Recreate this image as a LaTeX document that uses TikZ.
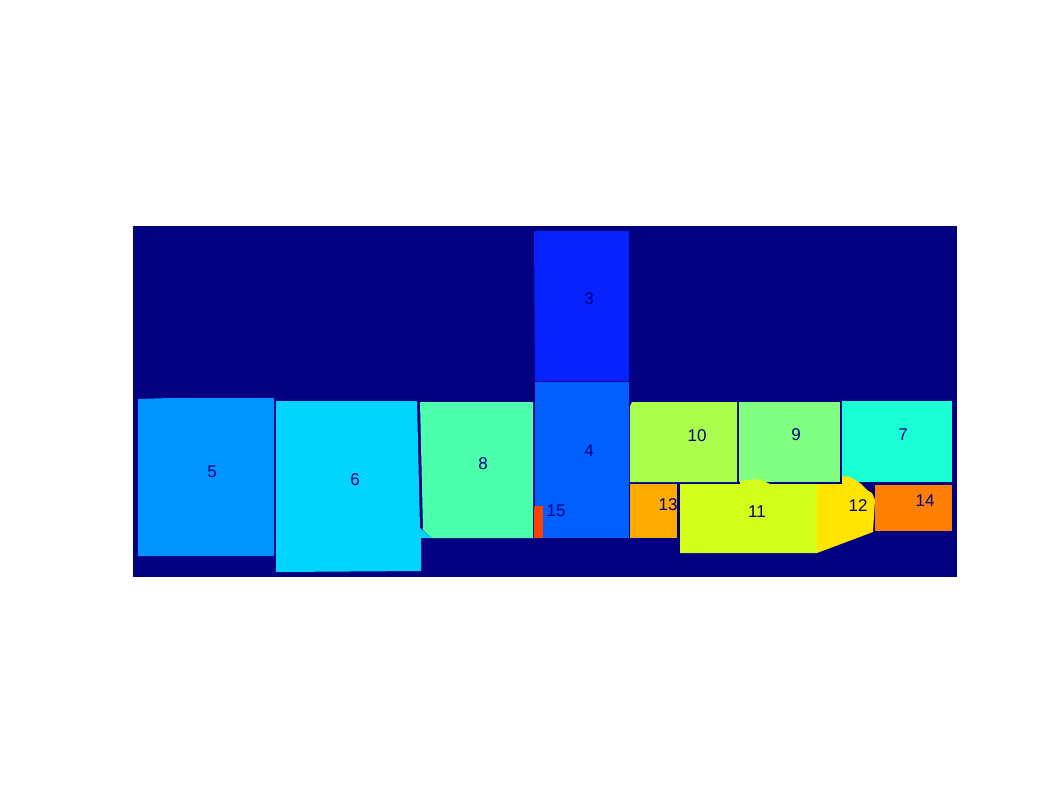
\documentclass[tikz,border=0pt]{standalone}
\usepackage{fontspec}
\setmainfont{Liberation Sans}
\begin{document}
\begin{tikzpicture}[x=1pt,y=-1pt,
  lbl/.style={text=navyc,font=\fontsize{17}{17}\selectfont,inner sep=0pt}]
\definecolor{navyc}{RGB}{0,0,128}
\definecolor{cIII}{RGB}{5,34,255}
\definecolor{cIV}{RGB}{0,96,255}
\definecolor{cV}{RGB}{0,148,255}
\definecolor{cVI}{RGB}{0,212,255}
\definecolor{cVII}{RGB}{26,255,212}
\definecolor{cVIII}{RGB}{76,255,170}
\definecolor{cIX}{RGB}{128,255,128}
\definecolor{cX}{RGB}{170,255,76}
\definecolor{cXI}{RGB}{212,255,26}
\definecolor{cXII}{RGB}{255,228,0}
\definecolor{cXIII}{RGB}{255,170,0}
\definecolor{cXIV}{RGB}{255,128,0}
\definecolor{cXV}{RGB}{255,64,0}
\useasboundingbox (0,0) rectangle (1062,796);
\fill[white] (0,0) rectangle (1062,796);
\fill[navyc] (133,226) rectangle (957,577);
% regions
\fill[cV] (138,399) -- (170,398) -- (274,398) -- (274,556) -- (138,556) -- cycle;
\fill[cVI] (276,401) -- (417,401) -- (420,528) -- (432,538) -- (421,538) -- (421,571) -- (276,572) -- cycle;
\fill[cVIII] (420,402) -- (533,402) -- (533,538) -- (432,538) -- (423,530) -- cycle;
\fill[cIII] (534,231) -- (629,231) -- (629,381) -- (535,381) -- cycle;
\fill[cIV] (535,382) -- (629,382) -- (629,538) -- (535,538) -- cycle;
\fill[cXV] (534,506) rectangle (543,538);
\fill[cX] (632,402) -- (737,402) -- (737,482) -- (630,482) -- (630,406) -- cycle;
\fill[cIX] (739,402) rectangle (840,482);
\fill[cVII] (842,401) rectangle (952,482);
\fill[cXIII] (630,484) rectangle (677,538);
\fill[cXI] (680,484) -- (740,484) -- (740,481) -- (760,479) -- (770,484) -- (817,484) -- (817,553) -- (680,553) -- cycle;
\fill[cXII] (817,484) -- (842,484) -- (842,476) -- (850,477) -- (860,483) -- (867,490) -- (872,493) -- (875,500) -- (873,532) -- (817,553) -- cycle;
\fill[cXIV] (875,485) rectangle (952,531);
% labels
\node[lbl] (l5) at (212,472) {5};
\node[lbl] (l6) at (355,480) {6};
\node[lbl] (l8) at (483,464) {8};
\node[lbl] (l3) at (589,299) {3};
\node[lbl] (l4) at (589,451) {4};
\node[lbl] (l15) at (556,511) {15};
\node[lbl] (l10) at (697,436) {10};
\node[lbl] (l9) at (796,435) {9};
\node[lbl] (l7) at (903,435) {7};
\node[lbl] (l13) at (668,505) {13};
\node[lbl] (l11) at (757,512) {11};
\node[lbl] (l12) at (858,506) {12};
\node[lbl] (l14) at (925,501) {14};
\end{tikzpicture}
\end{document}
